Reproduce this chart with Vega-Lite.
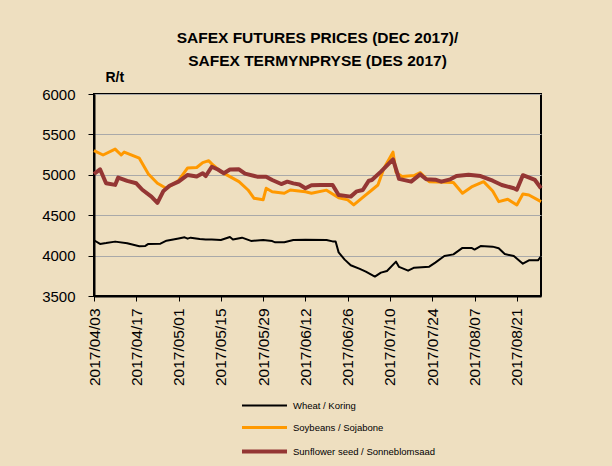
{
  "$schema": "https://vega.github.io/schema/vega-lite/v6.json",
  "width": 447,
  "height": 202,
  "autosize": {"type": "none"},
  "padding": {"left": 94, "top": 94, "right": 71, "bottom": 170},
  "background": "#EEDFC0",
  "title": {
    "text": ["SAFEX FUTURES PRICES (DEC 2017)/", "SAFEX TERMYNPRYSE (DES 2017)"],
    "font": "Liberation Sans",
    "fontSize": 15.5,
    "fontWeight": "bold",
    "color": "black",
    "lineHeight": 23,
    "anchor": "middle",
    "frame": "group",
    "offset": 1
  },
  "data": {
    "values": [
      {"date": "2017-04-03", "series": "Wheat / Koring", "price": 4190},
      {"date": "2017-04-05", "series": "Wheat / Koring", "price": 4145},
      {"date": "2017-04-07", "series": "Wheat / Koring", "price": 4155},
      {"date": "2017-04-10", "series": "Wheat / Koring", "price": 4173},
      {"date": "2017-04-14", "series": "Wheat / Koring", "price": 4152},
      {"date": "2017-04-18", "series": "Wheat / Koring", "price": 4115},
      {"date": "2017-04-20", "series": "Wheat / Koring", "price": 4120},
      {"date": "2017-04-21", "series": "Wheat / Koring", "price": 4145},
      {"date": "2017-04-25", "series": "Wheat / Koring", "price": 4148},
      {"date": "2017-04-27", "series": "Wheat / Koring", "price": 4185},
      {"date": "2017-05-01", "series": "Wheat / Koring", "price": 4212},
      {"date": "2017-05-03", "series": "Wheat / Koring", "price": 4226},
      {"date": "2017-05-04", "series": "Wheat / Koring", "price": 4210},
      {"date": "2017-05-05", "series": "Wheat / Koring", "price": 4222},
      {"date": "2017-05-08", "series": "Wheat / Koring", "price": 4205},
      {"date": "2017-05-10", "series": "Wheat / Koring", "price": 4200},
      {"date": "2017-05-12", "series": "Wheat / Koring", "price": 4200},
      {"date": "2017-05-15", "series": "Wheat / Koring", "price": 4193},
      {"date": "2017-05-18", "series": "Wheat / Koring", "price": 4230},
      {"date": "2017-05-19", "series": "Wheat / Koring", "price": 4200},
      {"date": "2017-05-22", "series": "Wheat / Koring", "price": 4222},
      {"date": "2017-05-25", "series": "Wheat / Koring", "price": 4182},
      {"date": "2017-05-29", "series": "Wheat / Koring", "price": 4193},
      {"date": "2017-06-01", "series": "Wheat / Koring", "price": 4180},
      {"date": "2017-06-02", "series": "Wheat / Koring", "price": 4164},
      {"date": "2017-06-05", "series": "Wheat / Koring", "price": 4165},
      {"date": "2017-06-08", "series": "Wheat / Koring", "price": 4194},
      {"date": "2017-06-12", "series": "Wheat / Koring", "price": 4197},
      {"date": "2017-06-19", "series": "Wheat / Koring", "price": 4192},
      {"date": "2017-06-21", "series": "Wheat / Koring", "price": 4176},
      {"date": "2017-06-22", "series": "Wheat / Koring", "price": 4175},
      {"date": "2017-06-23", "series": "Wheat / Koring", "price": 4040},
      {"date": "2017-06-25", "series": "Wheat / Koring", "price": 3950},
      {"date": "2017-06-27", "series": "Wheat / Koring", "price": 3880},
      {"date": "2017-06-30", "series": "Wheat / Koring", "price": 3835},
      {"date": "2017-07-02", "series": "Wheat / Koring", "price": 3801},
      {"date": "2017-07-05", "series": "Wheat / Koring", "price": 3740},
      {"date": "2017-07-07", "series": "Wheat / Koring", "price": 3789},
      {"date": "2017-07-09", "series": "Wheat / Koring", "price": 3810},
      {"date": "2017-07-12", "series": "Wheat / Koring", "price": 3925},
      {"date": "2017-07-13", "series": "Wheat / Koring", "price": 3860},
      {"date": "2017-07-16", "series": "Wheat / Koring", "price": 3814},
      {"date": "2017-07-18", "series": "Wheat / Koring", "price": 3851},
      {"date": "2017-07-23", "series": "Wheat / Koring", "price": 3863},
      {"date": "2017-07-25", "series": "Wheat / Koring", "price": 3913},
      {"date": "2017-07-28", "series": "Wheat / Koring", "price": 3995},
      {"date": "2017-07-31", "series": "Wheat / Koring", "price": 4015},
      {"date": "2017-08-03", "series": "Wheat / Koring", "price": 4095},
      {"date": "2017-08-06", "series": "Wheat / Koring", "price": 4095},
      {"date": "2017-08-07", "series": "Wheat / Koring", "price": 4075},
      {"date": "2017-08-09", "series": "Wheat / Koring", "price": 4118},
      {"date": "2017-08-13", "series": "Wheat / Koring", "price": 4111},
      {"date": "2017-08-15", "series": "Wheat / Koring", "price": 4090},
      {"date": "2017-08-17", "series": "Wheat / Koring", "price": 4020},
      {"date": "2017-08-20", "series": "Wheat / Koring", "price": 3995},
      {"date": "2017-08-23", "series": "Wheat / Koring", "price": 3900},
      {"date": "2017-08-25", "series": "Wheat / Koring", "price": 3942},
      {"date": "2017-08-28", "series": "Wheat / Koring", "price": 3942},
      {"date": "2017-08-29", "series": "Wheat / Koring", "price": 3990},

      {"date": "2017-04-03", "series": "Soybeans / Sojabone", "price": 5300},
      {"date": "2017-04-06", "series": "Soybeans / Sojabone", "price": 5245},
      {"date": "2017-04-10", "series": "Soybeans / Sojabone", "price": 5318},
      {"date": "2017-04-12", "series": "Soybeans / Sojabone", "price": 5245},
      {"date": "2017-04-13", "series": "Soybeans / Sojabone", "price": 5282},
      {"date": "2017-04-18", "series": "Soybeans / Sojabone", "price": 5205},
      {"date": "2017-04-21", "series": "Soybeans / Sojabone", "price": 5010},
      {"date": "2017-04-24", "series": "Soybeans / Sojabone", "price": 4895},
      {"date": "2017-04-27", "series": "Soybeans / Sojabone", "price": 4830},
      {"date": "2017-05-01", "series": "Soybeans / Sojabone", "price": 4930},
      {"date": "2017-05-04", "series": "Soybeans / Sojabone", "price": 5085},
      {"date": "2017-05-07", "series": "Soybeans / Sojabone", "price": 5090},
      {"date": "2017-05-09", "series": "Soybeans / Sojabone", "price": 5150},
      {"date": "2017-05-11", "series": "Soybeans / Sojabone", "price": 5175},
      {"date": "2017-05-12", "series": "Soybeans / Sojabone", "price": 5135},
      {"date": "2017-05-15", "series": "Soybeans / Sojabone", "price": 5040},
      {"date": "2017-05-18", "series": "Soybeans / Sojabone", "price": 4977},
      {"date": "2017-05-21", "series": "Soybeans / Sojabone", "price": 4915},
      {"date": "2017-05-24", "series": "Soybeans / Sojabone", "price": 4812},
      {"date": "2017-05-26", "series": "Soybeans / Sojabone", "price": 4709},
      {"date": "2017-05-29", "series": "Soybeans / Sojabone", "price": 4690},
      {"date": "2017-05-30", "series": "Soybeans / Sojabone", "price": 4833},
      {"date": "2017-06-01", "series": "Soybeans / Sojabone", "price": 4791},
      {"date": "2017-06-05", "series": "Soybeans / Sojabone", "price": 4771},
      {"date": "2017-06-07", "series": "Soybeans / Sojabone", "price": 4812},
      {"date": "2017-06-12", "series": "Soybeans / Sojabone", "price": 4790},
      {"date": "2017-06-14", "series": "Soybeans / Sojabone", "price": 4771},
      {"date": "2017-06-19", "series": "Soybeans / Sojabone", "price": 4810},
      {"date": "2017-06-23", "series": "Soybeans / Sojabone", "price": 4715},
      {"date": "2017-06-26", "series": "Soybeans / Sojabone", "price": 4690},
      {"date": "2017-06-28", "series": "Soybeans / Sojabone", "price": 4627},
      {"date": "2017-07-01", "series": "Soybeans / Sojabone", "price": 4720},
      {"date": "2017-07-04", "series": "Soybeans / Sojabone", "price": 4812},
      {"date": "2017-07-06", "series": "Soybeans / Sojabone", "price": 4874},
      {"date": "2017-07-08", "series": "Soybeans / Sojabone", "price": 5080},
      {"date": "2017-07-11", "series": "Soybeans / Sojabone", "price": 5280},
      {"date": "2017-07-12", "series": "Soybeans / Sojabone", "price": 5030},
      {"date": "2017-07-14", "series": "Soybeans / Sojabone", "price": 4980},
      {"date": "2017-07-18", "series": "Soybeans / Sojabone", "price": 4990},
      {"date": "2017-07-20", "series": "Soybeans / Sojabone", "price": 5027},
      {"date": "2017-07-23", "series": "Soybeans / Sojabone", "price": 4915},
      {"date": "2017-07-31", "series": "Soybeans / Sojabone", "price": 4905},
      {"date": "2017-08-03", "series": "Soybeans / Sojabone", "price": 4771},
      {"date": "2017-08-06", "series": "Soybeans / Sojabone", "price": 4850},
      {"date": "2017-08-10", "series": "Soybeans / Sojabone", "price": 4915},
      {"date": "2017-08-13", "series": "Soybeans / Sojabone", "price": 4800},
      {"date": "2017-08-15", "series": "Soybeans / Sojabone", "price": 4668},
      {"date": "2017-08-18", "series": "Soybeans / Sojabone", "price": 4697},
      {"date": "2017-08-21", "series": "Soybeans / Sojabone", "price": 4627},
      {"date": "2017-08-23", "series": "Soybeans / Sojabone", "price": 4763},
      {"date": "2017-08-25", "series": "Soybeans / Sojabone", "price": 4750},
      {"date": "2017-08-29", "series": "Soybeans / Sojabone", "price": 4668},

      {"date": "2017-04-03", "series": "Sunflower seed / Sonneblomsaad", "price": 5010},
      {"date": "2017-04-05", "series": "Sunflower seed / Sonneblomsaad", "price": 5068},
      {"date": "2017-04-07", "series": "Sunflower seed / Sonneblomsaad", "price": 4895},
      {"date": "2017-04-10", "series": "Sunflower seed / Sonneblomsaad", "price": 4875},
      {"date": "2017-04-11", "series": "Sunflower seed / Sonneblomsaad", "price": 4965},
      {"date": "2017-04-14", "series": "Sunflower seed / Sonneblomsaad", "price": 4925},
      {"date": "2017-04-17", "series": "Sunflower seed / Sonneblomsaad", "price": 4895},
      {"date": "2017-04-19", "series": "Sunflower seed / Sonneblomsaad", "price": 4815},
      {"date": "2017-04-22", "series": "Sunflower seed / Sonneblomsaad", "price": 4730},
      {"date": "2017-04-24", "series": "Sunflower seed / Sonneblomsaad", "price": 4652},
      {"date": "2017-04-26", "series": "Sunflower seed / Sonneblomsaad", "price": 4800},
      {"date": "2017-04-28", "series": "Sunflower seed / Sonneblomsaad", "price": 4865},
      {"date": "2017-05-01", "series": "Sunflower seed / Sonneblomsaad", "price": 4915},
      {"date": "2017-05-04", "series": "Sunflower seed / Sonneblomsaad", "price": 4998},
      {"date": "2017-05-07", "series": "Sunflower seed / Sonneblomsaad", "price": 4980},
      {"date": "2017-05-09", "series": "Sunflower seed / Sonneblomsaad", "price": 5020},
      {"date": "2017-05-10", "series": "Sunflower seed / Sonneblomsaad", "price": 4985},
      {"date": "2017-05-12", "series": "Sunflower seed / Sonneblomsaad", "price": 5100},
      {"date": "2017-05-14", "series": "Sunflower seed / Sonneblomsaad", "price": 5065},
      {"date": "2017-05-16", "series": "Sunflower seed / Sonneblomsaad", "price": 5020},
      {"date": "2017-05-18", "series": "Sunflower seed / Sonneblomsaad", "price": 5065},
      {"date": "2017-05-21", "series": "Sunflower seed / Sonneblomsaad", "price": 5068},
      {"date": "2017-05-23", "series": "Sunflower seed / Sonneblomsaad", "price": 5015},
      {"date": "2017-05-27", "series": "Sunflower seed / Sonneblomsaad", "price": 4977},
      {"date": "2017-05-30", "series": "Sunflower seed / Sonneblomsaad", "price": 4977},
      {"date": "2017-06-01", "series": "Sunflower seed / Sonneblomsaad", "price": 4936},
      {"date": "2017-06-04", "series": "Sunflower seed / Sonneblomsaad", "price": 4886},
      {"date": "2017-06-06", "series": "Sunflower seed / Sonneblomsaad", "price": 4915},
      {"date": "2017-06-08", "series": "Sunflower seed / Sonneblomsaad", "price": 4894},
      {"date": "2017-06-10", "series": "Sunflower seed / Sonneblomsaad", "price": 4880},
      {"date": "2017-06-12", "series": "Sunflower seed / Sonneblomsaad", "price": 4833},
      {"date": "2017-06-14", "series": "Sunflower seed / Sonneblomsaad", "price": 4870},
      {"date": "2017-06-17", "series": "Sunflower seed / Sonneblomsaad", "price": 4874},
      {"date": "2017-06-21", "series": "Sunflower seed / Sonneblomsaad", "price": 4874},
      {"date": "2017-06-23", "series": "Sunflower seed / Sonneblomsaad", "price": 4750},
      {"date": "2017-06-27", "series": "Sunflower seed / Sonneblomsaad", "price": 4730},
      {"date": "2017-06-29", "series": "Sunflower seed / Sonneblomsaad", "price": 4795},
      {"date": "2017-07-01", "series": "Sunflower seed / Sonneblomsaad", "price": 4812},
      {"date": "2017-07-03", "series": "Sunflower seed / Sonneblomsaad", "price": 4927},
      {"date": "2017-07-04", "series": "Sunflower seed / Sonneblomsaad", "price": 4935},
      {"date": "2017-07-07", "series": "Sunflower seed / Sonneblomsaad", "price": 5039},
      {"date": "2017-07-11", "series": "Sunflower seed / Sonneblomsaad", "price": 5190},
      {"date": "2017-07-13", "series": "Sunflower seed / Sonneblomsaad", "price": 4950},
      {"date": "2017-07-17", "series": "Sunflower seed / Sonneblomsaad", "price": 4915},
      {"date": "2017-07-20", "series": "Sunflower seed / Sonneblomsaad", "price": 5005},
      {"date": "2017-07-22", "series": "Sunflower seed / Sonneblomsaad", "price": 4945},
      {"date": "2017-07-25", "series": "Sunflower seed / Sonneblomsaad", "price": 4940},
      {"date": "2017-07-27", "series": "Sunflower seed / Sonneblomsaad", "price": 4915},
      {"date": "2017-07-30", "series": "Sunflower seed / Sonneblomsaad", "price": 4944},
      {"date": "2017-08-01", "series": "Sunflower seed / Sonneblomsaad", "price": 4985},
      {"date": "2017-08-05", "series": "Sunflower seed / Sonneblomsaad", "price": 5000},
      {"date": "2017-08-09", "series": "Sunflower seed / Sonneblomsaad", "price": 4985},
      {"date": "2017-08-13", "series": "Sunflower seed / Sonneblomsaad", "price": 4927},
      {"date": "2017-08-16", "series": "Sunflower seed / Sonneblomsaad", "price": 4874},
      {"date": "2017-08-20", "series": "Sunflower seed / Sonneblomsaad", "price": 4833},
      {"date": "2017-08-21", "series": "Sunflower seed / Sonneblomsaad", "price": 4815},
      {"date": "2017-08-23", "series": "Sunflower seed / Sonneblomsaad", "price": 4995},
      {"date": "2017-08-27", "series": "Sunflower seed / Sonneblomsaad", "price": 4936},
      {"date": "2017-08-29", "series": "Sunflower seed / Sonneblomsaad", "price": 4833}
    ]
  },
  "mark": {"type": "line", "strokeJoin": "round", "strokeCap": "butt"},
  "encoding": {
    "x": {
      "field": "date",
      "type": "temporal",
      "timeUnit": "utcyearmonthdate",
      "scale": {
        "domain": [
          {"year": 2017, "month": 4, "date": 3, "utc": true},
          {"year": 2017, "month": 8, "date": 29, "utc": true}
        ]
      },
      "axis": {
        "title": null,
        "values": [
          {"year": 2017, "month": 4, "date": 3, "utc": true},
          {"year": 2017, "month": 4, "date": 17, "utc": true},
          {"year": 2017, "month": 5, "date": 1, "utc": true},
          {"year": 2017, "month": 5, "date": 15, "utc": true},
          {"year": 2017, "month": 5, "date": 29, "utc": true},
          {"year": 2017, "month": 6, "date": 12, "utc": true},
          {"year": 2017, "month": 6, "date": 26, "utc": true},
          {"year": 2017, "month": 7, "date": 10, "utc": true},
          {"year": 2017, "month": 7, "date": 24, "utc": true},
          {"year": 2017, "month": 8, "date": 7, "utc": true},
          {"year": 2017, "month": 8, "date": 21, "utc": true}
        ],
        "format": "%Y/%m/%d",
        "labelAngle": 270,
        "labelAlign": "right",
        "labelBaseline": "middle",
        "labelFont": "Liberation Sans",
        "labelFontSize": 15.5,
        "labelColor": "black",
        "labelPadding": 7,
        "labelOverlap": false,
        "labelFlush": false,
        "tickSize": 5,
        "tickColor": "black",
        "domainColor": "black",
        "domainWidth": 2,
        "grid": false
      }
    },
    "y": {
      "field": "price",
      "type": "quantitative",
      "scale": {"domain": [3500, 6000], "nice": false, "zero": false},
      "axis": {
        "values": [3500, 4000, 4500, 5000, 5500, 6000],
        "format": "d",
        "title": "R/t",
        "titleAngle": 0,
        "titleAlign": "left",
        "titleBaseline": "middle",
        "titleX": 11,
        "titleY": -17,
        "titleFont": "Liberation Sans",
        "titleFontSize": 14,
        "titleFontWeight": "bold",
        "titleColor": "black",
        "labelFont": "Liberation Sans",
        "labelFontSize": 15,
        "labelColor": "black",
        "labelPadding": 13,
        "labelFlush": false,
        "tickSize": 6,
        "tickColor": "black",
        "domainColor": "black",
        "domainWidth": 2,
        "grid": true,
        "gridColor": "#A9A9A9",
        "gridWidth": 1
      }
    },
    "color": {
      "field": "series",
      "type": "nominal",
      "sort": null,
      "scale": {
        "domain": ["Wheat / Koring", "Soybeans / Sojabone", "Sunflower seed / Sonneblomsaad"],
        "range": ["#000000", "#FF9900", "#943634"]
      },
      "legend": {
        "orient": "none",
        "legendX": 146,
        "legendY": 303,
        "title": null,
        "direction": "vertical",
        "padding": 0,
        "symbolType": "M-3,0H3",
        "symbolSize": 225,
        "symbolStrokeWidth": 2.5,
        "symbolOffset": 15,
        "labelOffset": 19,
        "labelFont": "Liberation Sans",
        "labelFontSize": 9.5,
        "labelColor": "black",
        "rowPadding": 8.5
      }
    },
    "strokeWidth": {
      "field": "series",
      "type": "nominal",
      "scale": {
        "domain": ["Wheat / Koring", "Soybeans / Sojabone", "Sunflower seed / Sonneblomsaad"],
        "range": [2, 4, 6.5]
      },
      "legend": null
    }
  },
  "config": {
    "view": {"stroke": "black", "strokeWidth": 2}
  }
}
